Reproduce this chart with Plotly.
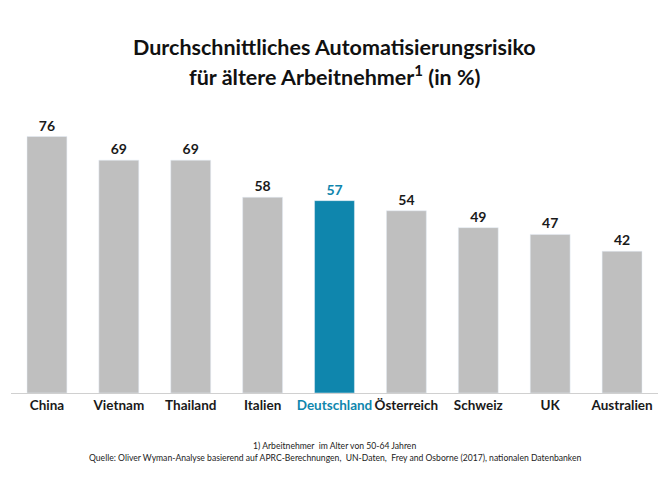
import plotly.graph_objects as go

categories = ["China", "Vietnam", "Thailand", "Italien", "Deutschland", "Österreich", "Schweiz", "UK", "Australien"]
values = [76, 69, 69, 58, 57, 54, 49, 47, 42]
highlight = "Deutschland"

GRAY = "#bfbfbf"
BLUE = "#0f86ad"
FONT = "Lato"
colors = [BLUE if c == highlight else GRAY for c in categories]
text_colors = [BLUE if c == highlight else "#1a1a1a" for c in categories]
ticktext = [f"<span style='color:{BLUE}'>{c}</span>" if c == highlight else c for c in categories]

fig = go.Figure(go.Bar(
    x=categories, y=values, marker_color=colors, width=0.555,
    text=[str(v) for v in values], textposition="outside",
    textfont=dict(family=FONT, size=14, color=text_colors, weight="bold"),
    cliponaxis=False,
))

# page body has an 8px margin; compensate so the plot lands where the reference has it
fig.update_layout(
    width=661, height=494,
    margin=dict(l=3, r=11, t=115, b=109),
    paper_bgcolor="white", plot_bgcolor="white",
    showlegend=False,
    xaxis=dict(tickmode="array", tickvals=categories, ticktext=ticktext, tickangle=0,
               automargin=False,
               tickfont=dict(family=FONT, size=13.5, color="#1a1a1a", weight="bold"),
               showline=True, linecolor="#d0d0d0", linewidth=1, ticks="", showgrid=False),
    yaxis=dict(range=[0, 80], visible=False, automargin=False),
    font=dict(family=FONT),
)

PLOT_H = 270
TOP = 123     # page y of plot top
BOT = 393     # page y of baseline
ann_font = dict(family=FONT, size=21.5, color="#111")
fig.add_annotation(text="<b>Durchschnittliches Automatisierungsrisiko</b>", xref="paper", yref="paper",
                   x=0.5, y=1 + (TOP - 47) / PLOT_H,
                   showarrow=False, font=ann_font, xanchor="center", yanchor="middle")
fig.add_annotation(text="<b>für ältere Arbeitnehmer<sup>1</sup> (in %)</b>", xref="paper", yref="paper",
                   x=0.5, y=1 + (TOP - 75) / PLOT_H,
                   showarrow=False, font=ann_font, xanchor="center", yanchor="middle")

foot_font = dict(family=FONT, size=8.6, color="#222")
fig.add_annotation(text="1) Arbeitnehmer  im Alter von 50-64 Jahren", xref="paper", yref="paper",
                   x=0.5, y=-(446 - BOT) / PLOT_H, showarrow=False, font=foot_font,
                   xanchor="center", yanchor="middle")
fig.add_annotation(text="Quelle: Oliver Wyman-Analyse basierend auf APRC-Berechnungen,  UN-Daten,  Frey and Osborne (2017), nationalen Datenbanken",
                   xref="paper", yref="paper", x=0.5, y=-(458 - BOT) / PLOT_H, showarrow=False,
                   font=foot_font, xanchor="center", yanchor="middle")

fig.write_html("out.html")
